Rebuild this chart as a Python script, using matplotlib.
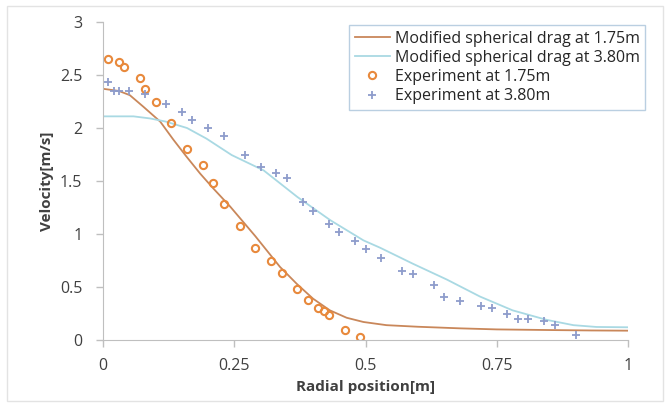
import numpy as np
import matplotlib
matplotlib.use('Agg')
import matplotlib.pyplot as plt
from matplotlib.patches import Rectangle

plt.rcParams['font.family'] = ['Open Sans', 'DejaVu Sans']

# 数値計算結果 (modified spherical drag)
sim175_x = [0.0, 0.03, 0.051, 0.077, 0.109, 0.134, 0.159, 0.185, 0.21, 0.242, 0.29,
            0.337, 0.369, 0.40, 0.432, 0.464, 0.496, 0.54, 0.60, 0.68, 0.75, 0.85, 0.93, 1.0]
sim175_v = [2.37, 2.35, 2.31, 2.20, 2.06, 1.89, 1.73, 1.57, 1.43, 1.26, 0.98,
            0.69, 0.53, 0.39, 0.28, 0.21, 0.17, 0.14, 0.125, 0.11, 0.10, 0.094, 0.09, 0.088]
sim380_x = [0.0, 0.058, 0.09, 0.12, 0.16, 0.197, 0.245, 0.306, 0.37, 0.433, 0.496,
            0.528, 0.59, 0.655, 0.718, 0.78, 0.845, 0.896, 0.94, 1.0]
sim380_v = [2.11, 2.11, 2.09, 2.06, 2.00, 1.90, 1.745, 1.60, 1.35, 1.13, 0.94,
            0.87, 0.72, 0.57, 0.41, 0.28, 0.19, 0.14, 0.123, 0.12]

# 実験値
exp175_x = [0.01, 0.03, 0.04, 0.07, 0.08, 0.10, 0.13, 0.16, 0.19, 0.21, 0.23, 0.26,
            0.29, 0.32, 0.34, 0.37, 0.39, 0.41, 0.42, 0.43, 0.46, 0.49]
exp175_v = [2.65, 2.62, 2.58, 2.47, 2.37, 2.25, 2.05, 1.80, 1.65, 1.48, 1.28, 1.08,
            0.87, 0.75, 0.63, 0.48, 0.38, 0.30, 0.27, 0.24, 0.09, 0.03]
exp380_x = [0.01, 0.02, 0.03, 0.05, 0.08, 0.12, 0.15, 0.17, 0.20, 0.23, 0.27, 0.30,
            0.33, 0.35, 0.38, 0.40, 0.43, 0.45, 0.48, 0.50, 0.53, 0.57, 0.59, 0.63,
            0.65, 0.68, 0.72, 0.74, 0.77, 0.79, 0.81, 0.84, 0.86, 0.90]
exp380_v = [2.43, 2.35, 2.35, 2.35, 2.32, 2.23, 2.15, 2.08, 2.00, 1.92, 1.75, 1.63,
            1.58, 1.53, 1.30, 1.22, 1.09, 1.02, 0.93, 0.86, 0.77, 0.65, 0.62, 0.52,
            0.41, 0.37, 0.32, 0.30, 0.25, 0.20, 0.20, 0.18, 0.14, 0.05]

xticks = [0, 0.25, 0.5, 0.75, 1]
xtick_labels = ['0', '0.25', '0.5', '0.75', '1']
yticks = [0, 0.5, 1, 1.5, 2, 2.5, 3]
ytick_labels = ['0', '0.5', '1', '1.5', '2', '2.5', '3']

fig = plt.figure(figsize=(6.66, 4.07), dpi=100)
ax = fig.add_axes([0.1547, 0.1646, 0.7883, 0.7813])

ax.plot(sim175_x, sim175_v, color='#C9875A', lw=1.3, label='Modified spherical drag at 1.75m')
ax.plot(sim380_x, sim380_v, color='#A9D9E3', lw=1.3, label='Modified spherical drag at 3.80m')
ax.plot(exp175_x, exp175_v, 'o', ms=5.2, mfc='none', mec='#E8893C', mew=1.5,
        label='Experiment at 1.75m')
ax.plot(exp380_x, exp380_v, '+', ms=6, color='#8E9CCB', mew=1.3,
        label='Experiment at 3.80m')

ax.set_xlim(0, 1)
ax.set_ylim(0, 3)
ax.set_xticks(xticks)
ax.set_xticklabels(xtick_labels)
ax.set_yticks(yticks)
ax.set_yticklabels(ytick_labels)
ax.tick_params(labelsize=11.5, colors='#BFBFBF', labelcolor='#404040', length=5, width=1)
ax.tick_params(axis='x', pad=8)
ax.tick_params(axis='y', pad=10)
for s in ['top', 'right']:
    ax.spines[s].set_visible(False)
for s in ['left', 'bottom']:
    ax.spines[s].set_color('#BFBFBF')

ax.set_xlabel('Radial position[m]', fontsize=11, fontweight='bold', color='#404040', labelpad=4)
ax.set_ylabel('Velocity[m/s]', fontsize=11, fontweight='bold', color='#404040', labelpad=4)

leg = ax.legend(loc='upper left', bbox_to_anchor=(349 / 666, 1 - 25 / 407),
                bbox_transform=fig.transFigure, fontsize=11.5, frameon=True,
                fancybox=False, borderaxespad=0, handlelength=2.2, handletextpad=0.3,
                labelspacing=0.2, borderpad=0.35)
leg.get_frame().set_edgecolor('#A9C4DA')
leg.get_frame().set_linewidth(1)
for t in leg.get_texts():
    t.set_color('#262626')

fig.patches.append(Rectangle((0.01, 0.015), 0.985, 0.97, transform=fig.transFigure,
                             fill=False, edgecolor='#E3E3E3', lw=1))

plt.savefig('out.png', dpi=100)
